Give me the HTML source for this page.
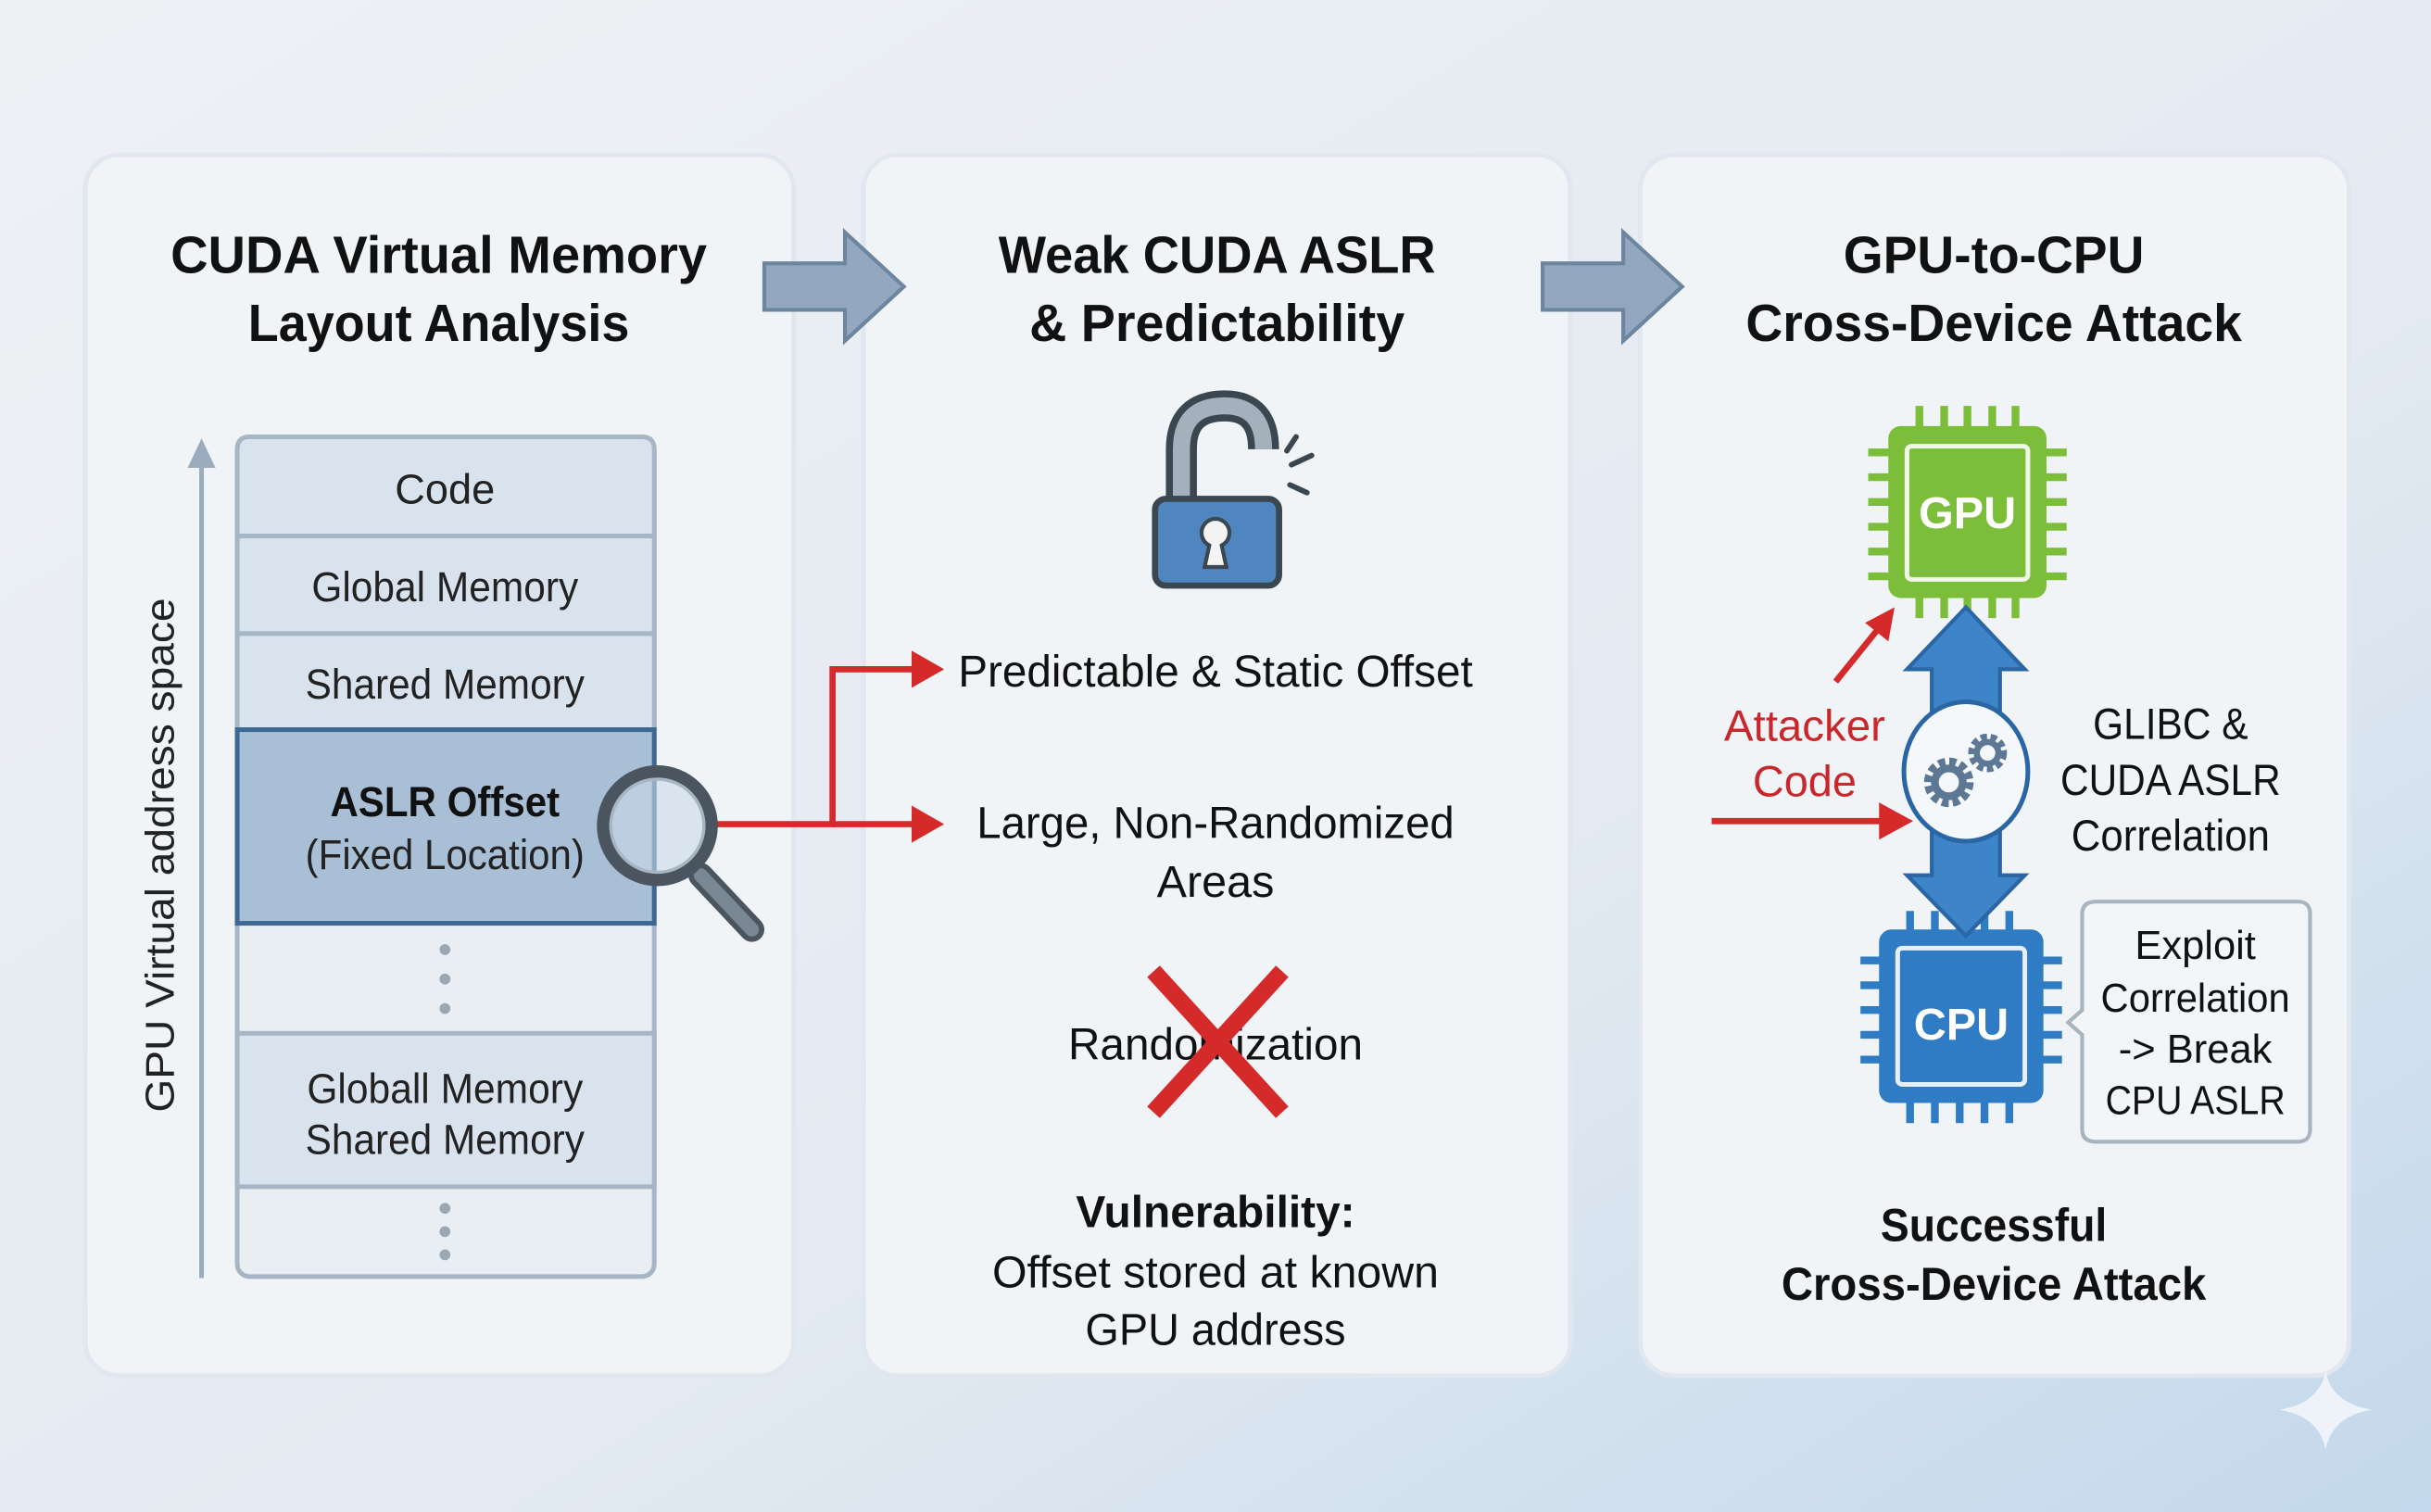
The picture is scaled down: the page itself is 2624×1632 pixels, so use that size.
<!DOCTYPE html>
<html><head><meta charset="utf-8"><style>html,body{margin:0;padding:0;overflow:hidden}svg{display:block}text{font-family:"Liberation Sans",sans-serif}</style></head>
<body>
<svg width="2624" height="1632" viewBox="0 0 1568 976" preserveAspectRatio="none" xmlns="http://www.w3.org/2000/svg">
<defs>
<linearGradient id="bg" x1="0" y1="0" x2="1" y2="1"><stop offset="0" stop-color="#eef1f4"/><stop offset="0.6" stop-color="#e3eaf1"/><stop offset="1" stop-color="#c3d8ec"/></linearGradient>
</defs>
<rect width="1568" height="976" fill="url(#bg)"/>
<g fill="#f1f4f7" stroke="#e1e7ee" stroke-width="3">
<rect x="55" y="100" width="457" height="788" rx="22"/>
<rect x="557" y="100" width="456" height="788" rx="22"/>
<rect x="1058" y="100" width="457" height="788" rx="22"/>
</g>
<g fill="#93a8bf" stroke="#6d86a0" stroke-width="2.5">
<path d="M493,170 L545,170 L545,150 L583,185 L545,220 L545,200 L493,200z"/>
<path d="M995,170 L1047,170 L1047,150 L1085,185 L1047,220 L1047,200 L995,200z"/>
</g>
<g font-weight="bold" font-size="34" text-anchor="middle" fill="#111">
<text x="283" y="176" textLength="346" lengthAdjust="spacingAndGlyphs">CUDA Virtual Memory</text><text x="283" y="220" textLength="246" lengthAdjust="spacingAndGlyphs">Layout Analysis</text>
<text x="785" y="176" textLength="282" lengthAdjust="spacingAndGlyphs">Weak CUDA ASLR</text><text x="785" y="220" textLength="242" lengthAdjust="spacingAndGlyphs">&amp; Predictability</text>
<text x="1286" y="176" textLength="194" lengthAdjust="spacingAndGlyphs">GPU-to-CPU</text><text x="1286" y="220" textLength="320" lengthAdjust="spacingAndGlyphs">Cross-Device Attack</text>
</g>
<line x1="130" y1="825" x2="130" y2="300" stroke="#9aabbd" stroke-width="3"/>
<path d="M121,302 L130,283 L139,302z" fill="#9aabbd"/>
<text transform="translate(112,552) rotate(-90)" text-anchor="middle" font-size="26" fill="#222" textLength="332" lengthAdjust="spacingAndGlyphs">GPU Virtual address space</text>
<rect x="153" y="282" width="269" height="542" rx="8" fill="#e9eef3" stroke="#a7b6c5" stroke-width="3"/>
<g fill="#d8e3ed" stroke="#a7b6c5" stroke-width="3">
<path d="M161,282 L414,282 Q422,282 422,290 L422,346 L153,346 L153,290 Q153,282 161,282z"/>
<rect x="153" y="346" width="269" height="63"/>
<rect x="153" y="409" width="269" height="62"/>
<rect x="153" y="667" width="269" height="99"/>
</g>
<rect x="153" y="471" width="269" height="125" fill="#a8bfd5" stroke="#3d6893" stroke-width="3"/>
<g font-size="27" text-anchor="middle" fill="#222">
<text x="287" y="325">Code</text><text x="287" y="388" textLength="172" lengthAdjust="spacingAndGlyphs">Global Memory</text><text x="287" y="451" textLength="180" lengthAdjust="spacingAndGlyphs">Shared Memory</text>
<text x="287" y="527" font-weight="bold" fill="#111" textLength="148" lengthAdjust="spacingAndGlyphs">ASLR Offset</text><text x="287" y="561" textLength="180" lengthAdjust="spacingAndGlyphs">(Fixed Location)</text>
<text x="287" y="712" textLength="178" lengthAdjust="spacingAndGlyphs">Globall Memory</text><text x="287" y="745" textLength="180" lengthAdjust="spacingAndGlyphs">Shared Memory</text>
</g>
<g fill="#9aa8b6"><circle cx="287" cy="613" r="3.5"/><circle cx="287" cy="632" r="3.5"/><circle cx="287" cy="651" r="3.5"/><circle cx="287" cy="780" r="3.5"/><circle cx="287" cy="795" r="3.5"/><circle cx="287" cy="810" r="3.5"/></g>
<path d="M462,532 L537,532 L537,432 L598,432" fill="none" stroke="#d42a2a" stroke-width="4"/>
<path d="M537,532 L598,532" stroke="#d42a2a" stroke-width="4"/>
<path d="M588,420 L609,432 L588,444z M588,520 L609,532 L588,544z" fill="#d42a2a"/>
<line x1="452" y1="565" x2="485" y2="600" stroke="#4a5560" stroke-width="16" stroke-linecap="round"/>
<line x1="452" y1="565" x2="485" y2="600" stroke="#7a8894" stroke-width="9" stroke-linecap="round"/>
<circle cx="424" cy="533" r="35" fill="#c9d9e8" fill-opacity="0.6" stroke="#4a5560" stroke-width="8"/>
<circle cx="424" cy="533" r="30" fill="none" stroke="#a8b6c3" stroke-width="2"/>
<path d="M762,322 L762,290 Q762,262 790,262 Q815,262 815,290" fill="none" stroke="#3a4650" stroke-width="20"/>
<path d="M762,322 L762,290 Q762,262 790,262 Q815,262 815,290" fill="none" stroke="#a4b1bd" stroke-width="11"/>
<rect x="745" y="322" width="80" height="56" rx="7" fill="#4f86c0" stroke="#3a4650" stroke-width="4"/>
<path d="M780,352 A9,9 0 1 1 788,352 L791,366 L777,366 Z" fill="#f4f4f4" stroke="#3a4650" stroke-width="2.5"/>
<g stroke="#3a4650" stroke-width="3.5" stroke-linecap="round"><line x1="830" y1="291" x2="836" y2="282"/><line x1="833" y1="300" x2="846" y2="294"/><line x1="832" y1="313" x2="843" y2="318"/></g>
<g font-size="29" fill="#111">
<text x="618" y="443" textLength="332" lengthAdjust="spacingAndGlyphs">Predictable &amp; Static Offset</text>
</g>
<g font-size="29" text-anchor="middle" fill="#111">
<text x="784" y="541" textLength="308" lengthAdjust="spacingAndGlyphs">Large, Non-Randomized</text><text x="784" y="579">Areas</text>
<text x="784" y="684" textLength="190" lengthAdjust="spacingAndGlyphs">Randomization</text>
<text x="784" y="792" font-weight="bold" textLength="180" lengthAdjust="spacingAndGlyphs">Vulnerability:</text>
<text x="784" y="831" textLength="288" lengthAdjust="spacingAndGlyphs">Offset stored at known</text><text x="784" y="868" textLength="168" lengthAdjust="spacingAndGlyphs">GPU address</text>
</g>
<g stroke="#d42a2a" stroke-width="11"><line x1="744" y1="627" x2="827" y2="718"/><line x1="827" y1="627" x2="744" y2="718"/></g>
<g stroke="#7cbd3a" stroke-width="5">
<path d="M1238,262v14 M1254,262v14 M1269,262v14 M1285,262v14 M1300,262v14 M1238,385v14 M1254,385v14 M1269,385v14 M1285,385v14 M1300,385v14 M1205,292h14 M1205,308h14 M1205,324h14 M1205,340h14 M1205,356h14 M1205,372h14 M1319,292h14 M1319,308h14 M1319,324h14 M1319,340h14 M1319,356h14 M1319,372h14"/>
</g>
<rect x="1218" y="275" width="102" height="111" rx="8" fill="#7cbd3a"/>
<rect x="1230" y="288" width="78" height="86" rx="3" fill="none" stroke="#f0f6e8" stroke-width="3"/>
<text x="1269" y="341" text-anchor="middle" font-size="29" font-weight="bold" fill="#fff">GPU</text>
<g stroke="#2f7cc4" stroke-width="5">
<path d="M1232,588v14 M1248,588v14 M1264,588v14 M1280,588v14 M1296,588v14 M1232,711v14 M1248,711v14 M1264,711v14 M1280,711v14 M1296,711v14 M1200,620h14 M1200,636h14 M1200,652h14 M1200,668h14 M1200,684h14 M1316,620h14 M1316,636h14 M1316,652h14 M1316,668h14 M1316,684h14"/>
</g>
<rect x="1212" y="600" width="106" height="112" rx="8" fill="#2f7cc4"/>
<rect x="1224" y="612" width="82" height="88" rx="3" fill="none" stroke="#e6f0fa" stroke-width="3"/>
<text x="1265" y="671" text-anchor="middle" font-size="29" font-weight="bold" fill="#fff">CPU</text>
<path d="M1268,392 L1306,432 L1290,432 L1290,565 L1306,565 L1268,604 L1230,565 L1246,565 L1246,432 L1230,432z" fill="#3d85c8" stroke="#2a66a3" stroke-width="2.5"/>
<ellipse cx="1268" cy="498" rx="40" ry="45" fill="#f5f8fb" stroke="#2a66a3" stroke-width="3"/>
<circle cx="1257" cy="505" r="12" fill="none" stroke="#5c7894" stroke-width="8" stroke-dasharray="4 2.3"/>
<circle cx="1257" cy="505" r="9" fill="none" stroke="#5c7894" stroke-width="5"/>
<circle cx="1282" cy="486" r="9" fill="none" stroke="#5c7894" stroke-width="7" stroke-dasharray="3.5 2"/>
<circle cx="1282" cy="486" r="7" fill="none" stroke="#5c7894" stroke-width="4"/>
<line x1="1184" y1="440" x2="1213" y2="404" stroke="#d42a2a" stroke-width="4"/>
<path d="M1222,392 L1218,414 L1203,402z" fill="#d42a2a"/>
<line x1="1104" y1="530" x2="1218" y2="530" stroke="#d42a2a" stroke-width="4"/>
<path d="M1234,530 L1212,518 L1212,542z" fill="#d42a2a"/>
<g font-size="28" text-anchor="middle">
<text x="1164" y="478" fill="#c8282c" textLength="104" lengthAdjust="spacingAndGlyphs">Attacker</text><text x="1164" y="514" fill="#c8282c">Code</text>
<text x="1400" y="477" fill="#111" textLength="100" lengthAdjust="spacingAndGlyphs">GLIBC &amp;</text><text x="1400" y="513" fill="#111" textLength="142" lengthAdjust="spacingAndGlyphs">CUDA ASLR</text><text x="1400" y="549" fill="#111" textLength="128" lengthAdjust="spacingAndGlyphs">Correlation</text>
</g>
<path d="M1352,582 L1482,582 Q1490,582 1490,590 L1490,729 Q1490,737 1482,737 L1352,737 Q1343,737 1343,729 L1343,668 L1334,660 L1343,652 L1343,590 Q1343,582 1352,582z" fill="#f3f6f9" stroke="#a8b4c0" stroke-width="2.5"/>
<g font-size="26" text-anchor="middle" fill="#111">
<text x="1416" y="619">Exploit</text><text x="1416" y="653" textLength="122" lengthAdjust="spacingAndGlyphs">Correlation</text><text x="1416" y="686">-&gt; Break</text><text x="1416" y="719" textLength="116" lengthAdjust="spacingAndGlyphs">CPU ASLR</text>
</g>
<g font-size="30" text-anchor="middle" font-weight="bold" fill="#111">
<text x="1286" y="801" textLength="146" lengthAdjust="spacingAndGlyphs">Successful</text><text x="1286" y="839" textLength="274" lengthAdjust="spacingAndGlyphs">Cross-Device Attack</text>
</g>
<path d="M1500,885 Q1504,906 1530,910 Q1504,914 1500,936 Q1496,914 1470,910 Q1496,906 1500,885z" fill="#f4f7fb" opacity="0.85"/>
</svg>
</body></html>
